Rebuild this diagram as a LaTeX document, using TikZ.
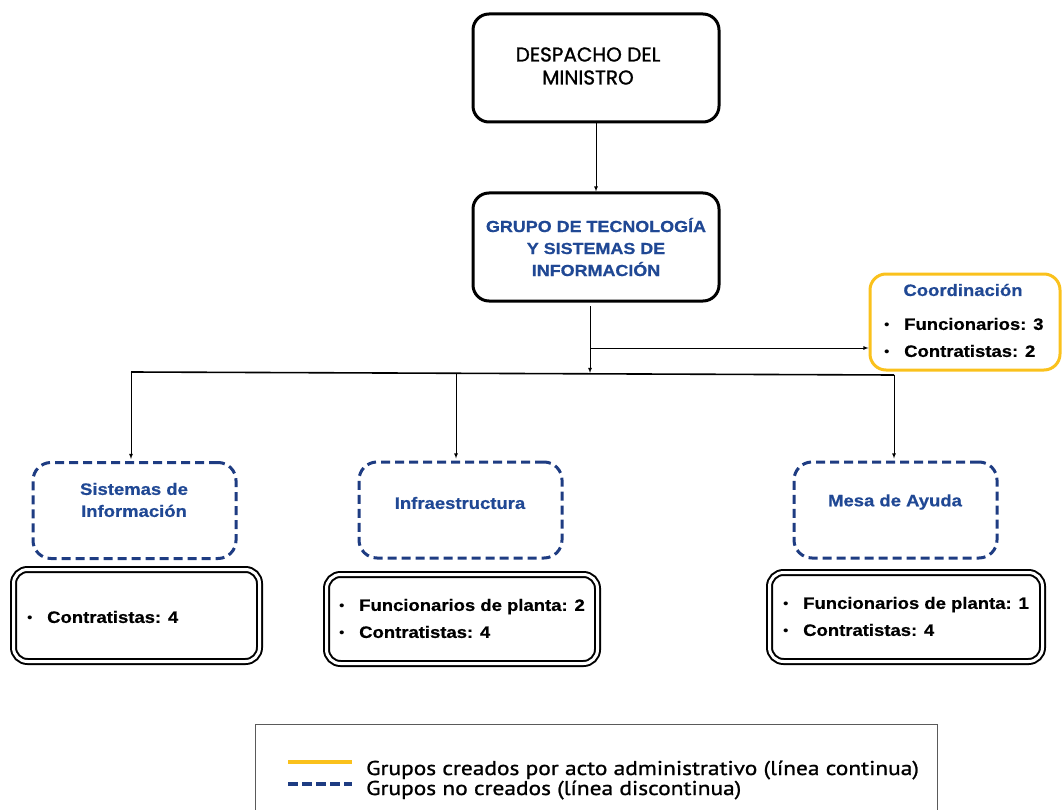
\documentclass[tikz,border=0pt]{standalone}
\usepackage{fontspec}
\setmainfont{Liberation Sans}[FakeStretch=1.12, BoldFeatures={FakeBold=0.7}]
\newfontfamily\despfont{Poppins}[FakeBold=1.2]
\newfontfamily\leyfont{PT Sans}[FakeStretch=1.17, FakeBold=1.1]
\usetikzlibrary{%
  calc,%
  arrows,%
  positioning%
}

\definecolor{azultit}{RGB}{32,72,148}
\definecolor{azulborde}{RGB}{30,60,130}
\definecolor{amarillo}{RGB}{250,193,28}
\definecolor{gris}{RGB}{90,90,90}

\newcommand{\vineta}[1]{\makebox[20pt][l]{\mdseries\fontsize{14}{14}\selectfont\textbullet}#1}

\tikzset{
  jefe/.style={draw, line width=3pt, rounded corners=16pt, minimum width=246pt,
    minimum height=108pt, inner sep=0pt, align=center},
  grupodash/.style={draw=azulborde, line width=3pt, dash pattern=on 9pt off 5pt,
    rounded corners=18pt, minimum width=203pt, minimum height=96pt, inner sep=0pt},
  titgrupo/.style={align=center, text=azultit, inner sep=0pt,
    font=\bfseries\fontsize{16.5}{22}\selectfont},
  personal/.style={draw, double, line width=2pt, double distance=3pt,
    rounded corners=14pt, minimum height=89pt, inner sep=0pt},
  lista/.style={anchor=west, align=left, inner sep=0pt,
    font=\bfseries\fontsize{16.5}{27}\selectfont},
  flecha/.style={->, >=latex, line width=0.8pt}
}

\begin{document}
\begin{tikzpicture}[x=1pt, y=-1pt]
\useasboundingbox (0,0) rectangle (1062,810);

% cabeza
\node[jefe] (despacho) at (596,68) {};
\node[align=center, inner sep=0pt, font=\despfont\fontsize{20}{23}\selectfont]
  (despachotxt) at (588,66) {DESPACHO DEL\\MINISTRO};
\node[jefe, text=azultit, font=\bfseries\fontsize{16}{22}\selectfont] (grupo) at (596,247)
  {GRUPO DE TECNOLOGÍA\\Y SISTEMAS DE\\INFORMACIÓN};
\draw[flecha] (despacho) -- (grupo);

% coordinacion
\node[draw=amarillo, line width=3pt, rounded corners=16pt, minimum width=190pt,
  minimum height=96pt] (coord) at (965,322) {};
\node[titgrupo] (coordtit) at (963,290) {Coordinación};
\node[lista] (coordlst) at (884,337.5) {\vineta{Funcionarios: 3}\\\vineta{Contratistas: 2}};

\coordinate (gbase) at (590,306);
\coordinate (gjunta) at (590,348);
\coordinate (bus) at (590,373);
\draw[flecha] (gbase) -- (bus);
\draw[flecha] (gjunta) -- (gjunta -| coord.west);

% grupos internos
\node[grupodash] (sist) at (134.5,510.5) {};
\node[titgrupo] (sisttxt) at (134,500) {Sistemas de\\Información};
\node[grupodash] (infra) at (460.5,510) {};
\node[titgrupo] (infratxt) at (460,503) {Infraestructura};
\node[grupodash] (mesa) at (895.5,510) {};
\node[titgrupo] (mesatxt) at (895,502) {Mesa de Ayuda};

\coordinate (busL) at (131,372);
\coordinate (busR) at (894,375);
\draw[line width=1.6pt] (busL) -- (busR);
\draw[flecha, shorten >=2pt] (busL) -- (busL |- sist.north);
\draw[flecha, shorten >=2pt] (456,373) coordinate (busI) -- (busI |- infra.north);
\draw[flecha, shorten >=2pt] (busR) -- (busR |- mesa.north);

% personal
\node[personal, minimum width=246pt, minimum height=92pt] (sistper) at (136.5,615.5) {};
\node[lista] (sistlst) at (27,617) {\vineta{Contratistas: 4}};
\node[personal, minimum width=271pt] (infraper) at (462,619) {};
\node[lista] (infralst) at (339,618.5) {\vineta{Funcionarios de planta: 2}\\\vineta{Contratistas: 4}};
\node[personal, minimum width=273pt] (mesaper) at (906,617) {};
\node[lista] (mesalst) at (783,616.5) {\vineta{Funcionarios de planta: 1}\\\vineta{Contratistas: 4}};

% leyenda
\node[draw=gris, line width=1.2pt, minimum width=682pt, minimum height=100pt,
  anchor=north west, inner sep=0pt] (leyenda) at (255,724) {};
\draw[amarillo, line width=4pt] (288,762) -- (352,762);
\draw[azulborde, line width=4pt, dash pattern=on 10pt off 4pt] (288,784) -- (352,784);
\node[anchor=west, align=left, inner sep=0pt, font=\leyfont\fontsize{20}{20}\selectfont]
  (leytxt) at (366,780) {Grupos creados por acto administrativo (línea continua)\\
  Grupos no creados (línea discontinua)};
\end{tikzpicture}
\end{document}
